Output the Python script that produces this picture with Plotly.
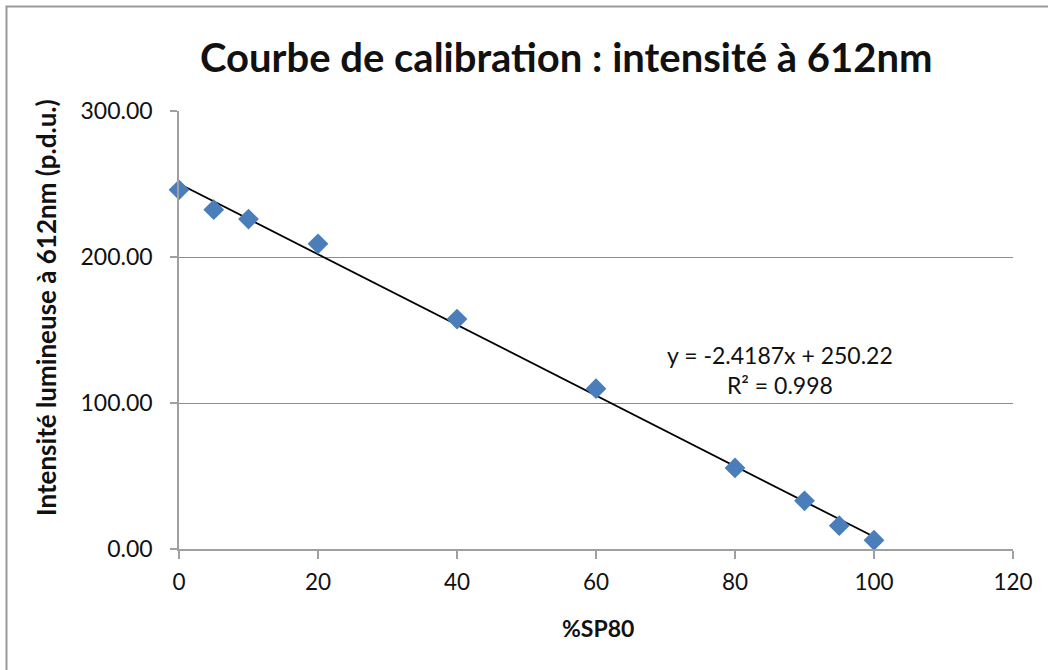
import plotly.graph_objects as go

# Calibration data: %SP80 vs luminous intensity at 612 nm
pct_sp80 = [0, 5, 10, 20, 40, 60, 80, 90, 95, 100]
intensity = [246.0, 232.4, 226.0, 209.0, 157.5, 109.8, 55.5, 33.0, 16.0, 6.0]

# Linear trendline coefficients
slope = -2.4187
intercept = 250.22
r_squared = 0.998
trend_x = [0, 100]
trend_y = [slope * x + intercept for x in trend_x]

x_ticks = [0, 20, 40, 60, 80, 100, 120]
y_ticks = [0, 100, 200, 300]

FONT = "Lato"
W, H = 1048, 670
L, R, T, B = 179, 35, 111, 121
PW, PH = W - L - R, H - T - B


def px(x):
    return (x - L) / PW


def py(y):
    return (H - B - y) / PH


fig = go.Figure()

fig.add_trace(go.Scatter(
    x=trend_x, y=trend_y, mode="lines",
    line=dict(color="black", width=1.8),
    hoverinfo="skip", showlegend=False, cliponaxis=False,
))

fig.add_trace(go.Scatter(
    x=pct_sp80, y=intensity, mode="markers",
    marker=dict(symbol="diamond", size=16, color="#4A7EBB",
                line=dict(width=0)),
    showlegend=False, cliponaxis=False,
))

eq_text = (f"y = {slope}x + {intercept}<br>"
           f"R² = {r_squared}")

fig.update_layout(
    width=W, height=H,
    margin=dict(l=L, r=R, t=T, b=B),
    paper_bgcolor="white", plot_bgcolor="white",
    font=dict(family=FONT, size=23, color="#111111"),
    xaxis=dict(
        range=[0, 120], tickvals=x_ticks, ticktext=[str(v) for v in x_ticks],
        showgrid=False, zeroline=False,
        showline=True, linecolor="#A0A0A0", linewidth=1.5,
        ticks="outside", ticklen=8, tickcolor="#A0A0A0", tickwidth=1.5,
        tickfont=dict(size=22.5, family=FONT), ticklabelstandoff=4,
    ),
    yaxis=dict(
        range=[0, 300], tickvals=y_ticks,
        ticktext=[f"{v:.2f}" for v in y_ticks],
        showgrid=True, gridcolor="#8C8C8C", gridwidth=1,
        zeroline=False,
        showline=True, linecolor="#A0A0A0", linewidth=1.5,
        ticks="outside", ticklen=7, tickcolor="#A0A0A0", tickwidth=1.5,
        tickfont=dict(size=23, family=FONT), ticklabelstandoff=13,
    ),
    annotations=[
        dict(text="<b>Courbe de calibration : intensité à 612nm</b>",
             x=px(566), y=py(57), xref="paper", yref="paper",
             showarrow=False, font=dict(size=40, family=FONT, color="#111111"),
             xanchor="center", yanchor="middle"),
        dict(text="<b>Intensité lumineuse à 612nm (p.d.u.)</b>",
             x=px(46), y=py(308), xref="paper", yref="paper",
             showarrow=False, textangle=-90,
             font=dict(size=26, family=FONT, color="#111111"),
             xanchor="center", yanchor="middle"),
        dict(text="<b>%SP80</b>",
             x=px(598), y=py(628), xref="paper", yref="paper",
             showarrow=False, font=dict(size=23, family=FONT, color="#111111"),
             xanchor="center", yanchor="middle"),
        dict(text=eq_text,
             x=px(780), y=py(370), xref="paper", yref="paper",
             showarrow=False, align="center",
             font=dict(size=23, family=FONT, color="#111111"),
             xanchor="center", yanchor="middle"),
    ],
    shapes=[
        dict(type="rect", xref="paper", yref="paper",
             x0=px(6.5), y0=py(6.5), x1=px(1070), y1=py(700),
             line=dict(color="#9A9A9A", width=2), layer="below"),
    ],
)

fig.write_html("out.html")
